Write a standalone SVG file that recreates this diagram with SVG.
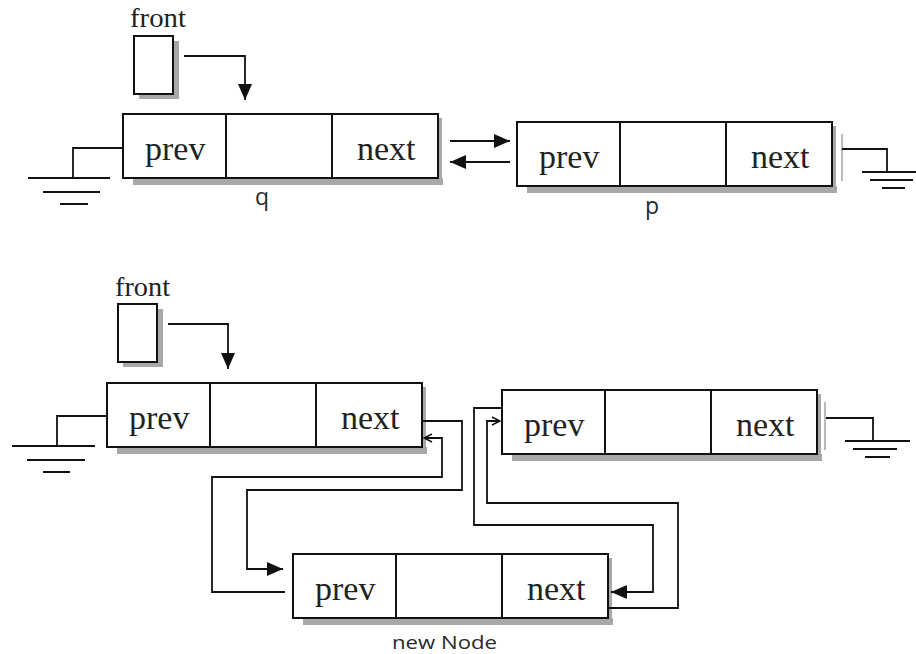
<svg xmlns="http://www.w3.org/2000/svg" width="916" height="654" viewBox="0 0 916 654">
<style>
.box{fill:#fff;stroke:#111;stroke-width:2}
.sh{fill:#a8a8a8}
.ln{fill:none;stroke:#111;stroke-width:1.8}
.gr{fill:none;stroke:#111;stroke-width:2}
.t{font-family:"Liberation Serif","Times New Roman",serif;font-size:34px;fill:#222}
.f{font-family:"Liberation Serif","Times New Roman",serif;font-size:28px;fill:#222}
.s{font-family:"Open Sans","Liberation Sans",sans-serif;fill:#2a2a2a}
</style>
<defs>
<marker id="big" viewBox="0 0 16 14" refX="16" refY="7" markerWidth="16" markerHeight="14" markerUnits="userSpaceOnUse" orient="auto">
<path d="M0,0 L16,7 L0,14 Z" fill="#111"/>
</marker>
<marker id="open" viewBox="0 0 10 10" refX="9" refY="5" markerWidth="10" markerHeight="10" markerUnits="userSpaceOnUse" orient="auto">
<path d="M1,1 L9,5 L1,9" fill="none" stroke="#111" stroke-width="1.5"/>
</marker>
<g id="node">
<rect class="sh" x="10" y="64" width="310" height="7"/>
<rect class="sh" x="315" y="4" width="4" height="67"/>
<rect class="box" x="0" y="0" width="315" height="64"/>
<line class="gr" x1="103" y1="0" x2="103" y2="64"/>
<line class="gr" x1="209" y1="0" x2="209" y2="64"/>
<text class="t" x="22" y="46">prev</text>
<text class="t" x="234" y="46">next</text>
</g>
<g id="frontbox">
<rect class="sh" x="5" y="5" width="40" height="58"/>
<rect class="box" x="0" y="0" width="39" height="58"/>
</g>
</defs>

<!-- top diagram -->
<g id="front1">
<text class="f" x="130" y="27" textLength="56" lengthAdjust="spacingAndGlyphs">front</text>
<use href="#frontbox" x="134" y="36"/>
</g>
<g id="q">
<use href="#node" x="123" y="114"/>
<text class="s" x="255" y="205" font-size="23">q</text>
</g>
<g id="p">
<use href="#node" x="517" y="122"/>
<text class="s" x="645" y="214" font-size="23">p</text>
</g>
<g id="ground1">
<polyline class="ln" points="123,148 73,148 73,178"/>
<line class="gr" x1="28" y1="178" x2="110" y2="178"/>
<line class="gr" x1="43" y1="192" x2="100" y2="192"/>
<line class="gr" x1="60" y1="204" x2="88" y2="204"/>
</g>
<g id="ground2">
<line x1="842" y1="134" x2="842" y2="181" stroke="#bbb" stroke-width="2"/>
<polyline class="ln" points="842,149 887,149 887,172"/>
<line class="gr" x1="862" y1="172" x2="916" y2="172"/>
<line class="gr" x1="870" y1="180" x2="913" y2="180"/>
<line class="gr" x1="882" y1="188" x2="905" y2="188"/>
</g>

<!-- bottom diagram -->
<g id="front2">
<text class="f" x="115" y="296" textLength="55" lengthAdjust="spacingAndGlyphs">front</text>
<use href="#frontbox" x="118" y="304"/>
</g>
<g id="n1">
<use href="#node" x="107" y="383"/>
</g>
<g id="n2">
<use href="#node" x="502" y="390"/>
</g>
<g id="newNode">
<use href="#node" x="293" y="554"/>
<text class="s" x="392" y="649" font-size="19" textLength="105" lengthAdjust="spacingAndGlyphs">new Node</text>
</g>
<g id="ground3">
<polyline class="ln" points="107,416 57,416 57,446"/>
<line class="gr" x1="12" y1="446" x2="95" y2="446"/>
<line class="gr" x1="27" y1="460" x2="85" y2="460"/>
<line class="gr" x1="43" y1="472" x2="70" y2="472"/>
</g>
<g id="ground4">
<line x1="825" y1="402" x2="825" y2="450" stroke="#bbb" stroke-width="2"/>
<polyline class="ln" points="826,418 873,418 873,441"/>
<line class="gr" x1="845" y1="441" x2="910" y2="441"/>
<line class="gr" x1="853" y1="449" x2="897" y2="449"/>
<line class="gr" x1="865" y1="457" x2="890" y2="457"/>
</g>

<g id="connectors">
<polyline class="ln" points="184,56 245,56 245,100" marker-end="url(#big)"/>
<line class="ln" x1="450" y1="141" x2="510" y2="141" marker-end="url(#big)"/>
<line class="ln" x1="510" y1="162" x2="450" y2="162" marker-end="url(#big)"/>
<polyline class="ln" points="168,324 228,324 228,369" marker-end="url(#big)"/>
<polyline class="ln" points="423,421 462,421 462,490 247,490 247,569 283,569" marker-end="url(#big)"/>
<polyline class="ln" points="285,592 212,592 212,477 442,477 442,438 424,438" marker-end="url(#open)"/>
<polyline class="ln" points="609,608 678,608 678,503 487,503 487,421 500,421" marker-end="url(#open)"/>
<polyline class="ln" points="501,408 474,408 474,525 653,525 653,592 611,592" marker-end="url(#big)"/>
</g>
</svg>
